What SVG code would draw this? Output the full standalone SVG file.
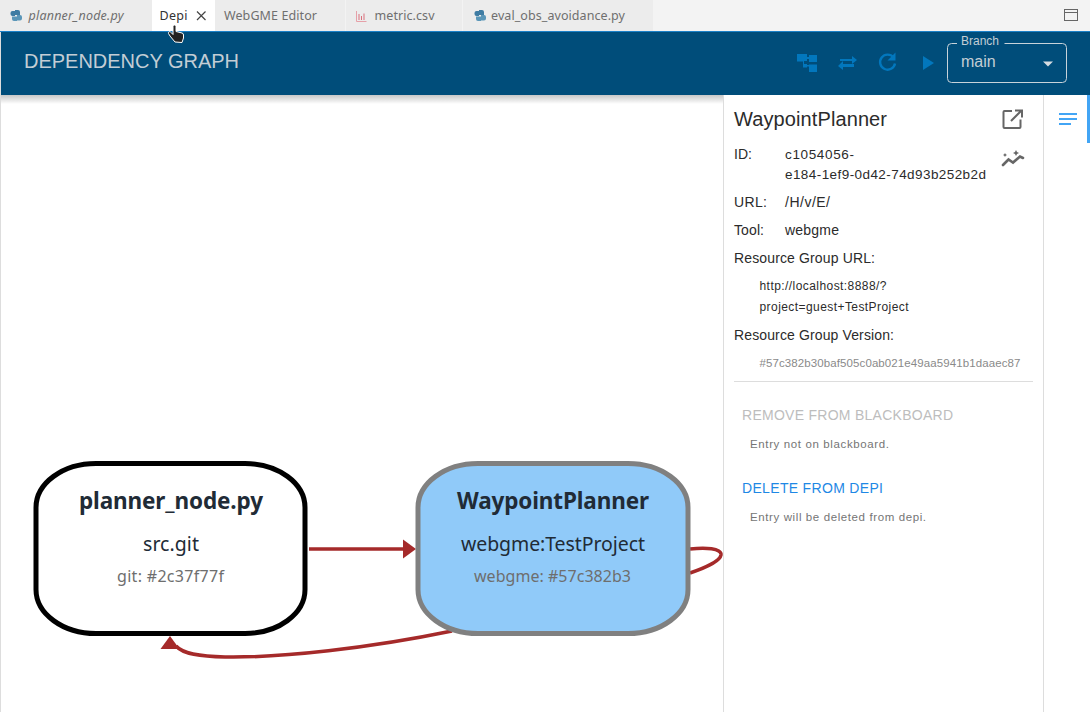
<svg xmlns="http://www.w3.org/2000/svg" width="1090" height="712" viewBox="0 0 1090 712">
<defs>
<style>
.tab{font-family:"Noto Sans","Open Sans",sans-serif;font-size:12.5px;fill:#6f6f6f}
.p{font-family:"Liberation Sans",Arial,sans-serif;fill:#2b2b2b}
.b{font-size:14px}
.s{font-size:12px}
.t{font-family:"Noto Sans","Open Sans",sans-serif;text-anchor:middle}
.title{font-size:22.500px;font-weight:700;fill:#212b36}
.sub{font-size:19.500px;fill:#212b36}
.ver{font-size:16px;fill:#6e6e6e}
.edge{fill:none;stroke:#a52a2a;stroke-width:3.500}
.ic{fill:#0277bd}
</style>
<linearGradient id="sh" x1="0" y1="0" x2="0" y2="1"><stop offset="0" stop-color="#000" stop-opacity=".22"/><stop offset="1" stop-color="#000" stop-opacity="0"/></linearGradient>
<g id="py"><path d="M-1 -5.500h3a2 2 0 0 1 2 2v3h-5v1h-2.500a2 2 0 0 1 -2 -2v-1a2 2 0 0 1 2 -2h2.500z" fill="#3f7ca3"/><path d="M1 5.500h-3a2 2 0 0 1 -2 -2v-2.500h5v-1.500h3a2 2 0 0 1 2 2v1.500a2 2 0 0 1 -2 2h-3z" fill="#5a96b8"/></g>
</defs>
<rect width="1090" height="712" fill="#fff"/>
<g id="tabbar">
<rect width="1090" height="31" fill="#f3f3f3"/>
<rect x="0" width="152" height="31" fill="#ececec"/>
<rect x="152" width="63" height="31" fill="#fff"/>
<rect x="215" width="130" height="31" fill="#ececec"/>
<rect x="346" width="116" height="31" fill="#ececec"/>
<rect x="463" width="190" height="31" fill="#ececec"/>
<use href="#py" x="16" y="15.500"/>
<text class="tab" x="28.500" y="20" font-style="italic" textLength="95">planner_node.py</text>
<text class="tab" x="159.500" y="20" style="fill:#333" textLength="28">Depi</text>
<path d="M197 11.500l8.500 8.500M205.500 11.500l-8.500 8.500" stroke="#444" stroke-width="1.200" fill="none"/>
<text class="tab" x="224" y="20" textLength="93">WebGME Editor</text>
<path d="M356.500 11v10.500h10" fill="none" stroke="#e6a0a8" stroke-width="1"/><path d="M359 14v6M361.500 16v4M364 13.500v6.500" stroke="#d9707c" stroke-width="1"/>
<text class="tab" x="374.500" y="20" textLength="60">metric.csv</text>
<use href="#py" x="480" y="15.500"/>
<text class="tab" x="491" y="20" textLength="134">eval_obs_avoidance.py</text>
<rect x="1064.500" y="9.500" width="13" height="11" fill="none" stroke="#666" stroke-width="1"/><path d="M1064.500 12.500h13" stroke="#666" stroke-width="1"/>
</g>
<g id="header">
<rect x="0" y="31" width="1090" height="1" fill="#1b81c8"/>
<rect x="1" y="32" width="1089" height="63" fill="#004d7a"/>
<rect x="1" y="95" width="722" height="9" fill="url(#sh)"/>
<text x="24" y="68" font-family="'Liberation Sans',Arial,sans-serif" font-size="20" fill="#c3cdd5" textLength="215">DEPENDENCY GRAPH</text>
<path class="ic" d="M797 54h10v3h2v-2h8v7h-8v-3h-2v2h-3v3h3v1h2v-0.500h8v7.500h-8v-5.500h-2v1h-4v-6h-6z"/>
<path class="ic" d="M840 59h12v-3l5 4l-5 4v-3h-12zM854 64h-11v-3l-5 5l5 4v-3h11z"/>
<path d="M893.500 57.500a7.500 7.500 0 1 0 1.500 6" fill="none" stroke="#0277bd" stroke-width="2.400"/><path class="ic" d="M895.500 52.500v8h-8z"/>
<path class="ic" d="M923 56l11 7l-11 7z"/>
<path d="M957 43.500h-5.500a4 4 0 0 0 -4 4v31a4 4 0 0 0 4 4h111a4 4 0 0 0 4 -4v-31a4 4 0 0 0 -4 -4h-58" fill="none" stroke="#c8d3da" stroke-width="1"/>
<text x="961" y="45" font-family="'Liberation Sans',Arial,sans-serif" font-size="12" fill="#c3cdd5">Branch</text>
<text x="961" y="67" font-family="'Liberation Sans',Arial,sans-serif" font-size="16" fill="#c3cdd5">main</text>
<path d="M1043 61.500h10l-5 5z" fill="#d5dce1"/>
</g>
<g id="canvas-borders">
<path d="M0.500 32V712" stroke="#ddd"/>
<path d="M723.500 95V712M1043.500 95V712" stroke="#ddd"/>
</g>
<g id="details">
<text class="p" x="734" y="126" font-size="20" textLength="153">WaypointPlanner</text>
<path d="M1012 111h-7.500a1 1 0 0 0 -1 1v15a1 1 0 0 0 1 1h15a1 1 0 0 0 1 -1v-7.500M1011 121l10 -10M1015 110.500h7v7" fill="none" stroke="#666" stroke-width="2"/>
<path d="M1003 165l5.500 -5.500l4.500 3l7 -6l3 1.500" fill="none" stroke="#666" stroke-width="2.600" stroke-linecap="round"/><path d="M1016 150l1 2l2 1l-2 1l-1 2l-1 -2l-2 -1l2 -1zM1005 153l.7 1.300l1.300 .7l-1.300 .7l-.7 1.300l-.7 -1.300l-1.300 -.7l1.300 -.7z" fill="#666"/>
<text class="p b" x="734" y="159">ID:</text>
<text class="p" x="785" y="159" font-size="13.500" textLength="69">c1054056-</text>
<text class="p" x="785" y="179" font-size="13.500" textLength="201">e184-1ef9-0d42-74d93b252b2d</text>
<text class="p b" x="734" y="207" textLength="33">URL:</text>
<text class="p" x="785" y="207" font-size="14" textLength="45">/H/v/E/</text>
<text class="p b" x="734" y="235" textLength="30">Tool:</text>
<text class="p" x="785" y="235" font-size="14" textLength="54">webgme</text>
<text class="p b" x="734" y="263" textLength="141">Resource Group URL:</text>
<text class="p s" x="759.500" y="290" textLength="127">http://localhost:8888/?</text>
<text class="p s" x="759.500" y="311" textLength="149">project=guest+TestProject</text>
<text class="p b" x="734" y="340" textLength="160">Resource Group Version:</text>
<text class="p" x="759.500" y="367" font-size="11.500" style="fill:#8a8a8a" textLength="261">#57c382b30baf505c0ab021e49aa5941b1daaec87</text>
<path d="M734 381.500h299" stroke="#ddd"/>
<text x="742" y="420" font-family="'Liberation Sans',Arial,sans-serif" font-size="14" fill="#bdbdbd" textLength="211">REMOVE FROM BLACKBOARD</text>
<text x="750" y="448" font-family="'Liberation Sans',Arial,sans-serif" font-size="11.500" fill="#757575" textLength="139">Entry not on blackboard.</text>
<text x="742" y="493" font-family="'Liberation Sans',Arial,sans-serif" font-size="14" fill="#1e88e5" textLength="141">DELETE FROM DEPI</text>
<text x="750" y="521" font-family="'Liberation Sans',Arial,sans-serif" font-size="11.500" fill="#757575" textLength="176">Entry will be deleted from depi.</text>
</g>
<g id="sidebar">
<path d="M1059 114h18M1059 119h18M1059 124h12" stroke="#42a5f5" stroke-width="2"/>
<rect x="1087" y="95" width="3" height="48" fill="#42a5f5"/>
</g>
<g id="connectors">
<path class="edge" d="M309 549H404"/>
<path d="M403 539.500l13 9.500l-13 9.500z" fill="#a52a2a"/>
<path class="edge" d="M690 549C705 547.500 722 548 721 555C720 561 705 568 690 573"/>
<path class="edge" d="M452 631C370 648 280 658 225 657C200 656.500 183 654 176 646"/>
<path d="M170 636l-9.500 13h19z" fill="#a52a2a"/>
</g>
<g id="node-planner">
<rect x="36" y="463.500" width="269" height="170" rx="60" ry="44" fill="#fff" stroke="#000" stroke-width="5"/>
<text class="t title" x="171" y="509" textLength="184">planner_node.py</text>
<text class="t sub" x="171" y="551" textLength="56">src.git</text>
<text class="t ver" x="170.500" y="582" textLength="107">git: #2c37f77f</text>
</g>
<g id="node-waypoint">
<rect x="418" y="463.500" width="270" height="170" rx="60" ry="44" fill="#90caf9" stroke="#808080" stroke-width="5"/>
<text class="t title" x="553" y="509" textLength="192">WaypointPlanner</text>
<text class="t sub" x="553" y="551" textLength="184">webgme:TestProject</text>
<text class="t ver" x="552.500" y="582" textLength="157">webgme: #57c382b3</text>
</g>
<g id="cursor">
<path d="M175 42l-5 -6l-1.500 -2.500a1.300 1.300 0 0 1 2.500 -1l2 2v-8a1.500 1.500 0 0 1 3 0v5l6 1.500a2 2 0 0 1 1.500 2v3l-1.500 4.500z" fill="#222" stroke="#fff" stroke-width="1"/>
</g>
</svg>
